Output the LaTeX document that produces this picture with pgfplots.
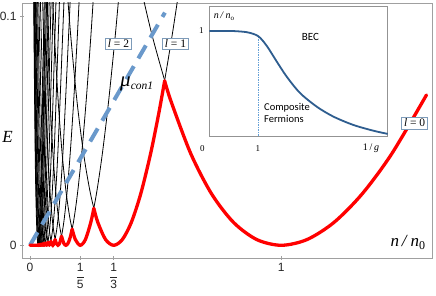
\documentclass[border=0pt]{standalone}
\usepackage{pgfplots}
\pgfplotsset{compat=1.18}
\usepackage{fontspec}
\setmainfont{Liberation Sans}
\newfontfamily\tnr{Liberation Serif}
\newfontfamily\carl{Carlito}
\definecolor{dashblue}{RGB}{106,153,203}
\definecolor{insetblue}{RGB}{46,93,143}
\definecolor{insetdash}{RGB}{100,160,215}
\definecolor{boxc}{RGB}{125,155,185}
\definecolor{framegray}{RGB}{160,160,160}
\tikzset{lbox/.style={draw=boxc, fill=white, line width=0.6pt, inner xsep=2.5pt, inner ysep=1.8pt, font=\tnr\fontsize{11.5}{11.5}\selectfont}}
\begin{document}
\begin{tikzpicture}
\begin{axis}[name=main, scale only axis, width=410pt, height=255pt,
  xmin=-0.0318, xmax=1.6, ymin=-0.00555, ymax=0.1058,
  axis line style={framegray, line width=0.8pt},
  xtick={0,0.2,0.333333,1},
  xticklabels={0,$\displaystyle\frac{\mbox{1}}{\mbox{5}}$,$\displaystyle\frac{\mbox{1}}{\mbox{3}}$,1},
  ytick={0,0.1}, yticklabels={0,0.1},
  tick pos=left, tick align=center,
  major tick length=4pt,
  tick style={framegray, line width=0.6pt},
  ticklabel style={font=\fontsize{12}{12}\selectfont, text=black!85},
  clip mode=individual]
\coordinate (BL) at (rel axis cs:0,0);
\coordinate (insetSW) at (axis cs:0.7135,0.04773);
% black curves E_l(n)
\addplot[black, line width=0.8pt, smooth] coordinates {(0.4489,0.1089) (0.49,0.09) (0.5625,0.0625) (0.64,0.04) (0.7225,0.0225) (0.81,0.01) (0.9025,0.0025) (1,0) (1.1025,0.0025) (1.21,0.01) (1.3225,0.0225) (1.44,0.04) (1.5625,0.0625)};
\addplot[black, line width=0.8pt, smooth] coordinates {(0.14963,0.1089) (0.16333,0.09) (0.1875,0.0625) (0.21333,0.04) (0.24083,0.0225) (0.27,0.01) (0.30083,0.0025) (0.33333,0) (0.3675,0.0025) (0.40333,0.01) (0.44083,0.0225) (0.48,0.04) (0.52083,0.0625) (0.56333,0.09) (0.58963,0.1089)};
\addplot[black, line width=0.8pt, smooth] coordinates {(0.08978,0.1089) (0.098,0.09) (0.1125,0.0625) (0.128,0.04) (0.1445,0.0225) (0.162,0.01) (0.1805,0.0025) (0.2,0) (0.2205,0.0025) (0.242,0.01) (0.2645,0.0225) (0.288,0.04) (0.3125,0.0625) (0.338,0.09) (0.35378,0.1089)};
\addplot[black, line width=0.8pt, smooth] coordinates {(0.06413,0.1089) (0.07,0.09) (0.08036,0.0625) (0.09143,0.04) (0.10321,0.0225) (0.11571,0.01) (0.12893,0.0025) (0.14286,0) (0.1575,0.0025) (0.17286,0.01) (0.18893,0.0225) (0.20571,0.04) (0.22321,0.0625) (0.24143,0.09) (0.2527,0.1089)};
\addplot[black, line width=0.8pt, smooth] coordinates {(0.04988,0.1089) (0.05444,0.09) (0.0625,0.0625) (0.07111,0.04) (0.08028,0.0225) (0.09,0.01) (0.10028,0.0025) (0.11111,0) (0.1225,0.0025) (0.13444,0.01) (0.14694,0.0225) (0.16,0.04) (0.17361,0.0625) (0.18778,0.09) (0.19654,0.1089)};
\addplot[black, line width=0.8pt, smooth] coordinates {(0.04081,0.1089) (0.05818,0.04) (0.07364,0.01) (0.09091,0) (0.11,0.01) (0.13091,0.04) (0.16081,0.1089)};
\addplot[black, line width=0.8pt, smooth] coordinates {(0.03453,0.1089) (0.04923,0.04) (0.06231,0.01) (0.07692,0) (0.09308,0.01) (0.11077,0.04) (0.13607,0.1089)};
\addplot[black, line width=0.8pt, smooth] coordinates {(0.02993,0.1089) (0.04267,0.04) (0.054,0.01) (0.06667,0) (0.08067,0.01) (0.096,0.04) (0.11793,0.1089)};
\addplot[black, line width=0.8pt, smooth] coordinates {(0.02641,0.1089) (0.03765,0.04) (0.04765,0.01) (0.05882,0) (0.07118,0.01) (0.08471,0.04) (0.10405,0.1089)};
\addplot[black, line width=0.8pt, smooth] coordinates {(0.02363,0.1089) (0.03368,0.04) (0.04263,0.01) (0.05263,0) (0.06368,0.01) (0.07579,0.04) (0.0931,0.1089)};
\addplot[black, line width=0.8pt, smooth] coordinates {(0.02138,0.1089) (0.03048,0.04) (0.03857,0.01) (0.04762,0) (0.05762,0.01) (0.06857,0.04) (0.08423,0.1089)};
\addplot[black, line width=0.8pt, smooth] coordinates {(0.01952,0.1089) (0.02783,0.04) (0.03522,0.01) (0.04348,0) (0.05261,0.01) (0.06261,0.04) (0.07691,0.1089)};
\addplot[black, line width=0.8pt, smooth] coordinates {(0.01796,0.1089) (0.0256,0.04) (0.0324,0.01) (0.04,0) (0.0484,0.01) (0.0576,0.04) (0.07076,0.1089)};
\addplot[black, line width=0.8pt, smooth] coordinates {(0.01663,0.1089) (0.0237,0.04) (0.03,0.01) (0.03704,0) (0.04481,0.01) (0.05333,0.04) (0.06551,0.1089)};
\addplot[black, line width=0.8pt, smooth] coordinates {(0.01548,0.1089) (0.02207,0.04) (0.02793,0.01) (0.03448,0) (0.04172,0.01) (0.04966,0.04) (0.061,0.1089)};
\addplot[black, line width=0.8pt, smooth] coordinates {(0.01448,0.1089) (0.02065,0.04) (0.02613,0.01) (0.03226,0) (0.03903,0.01) (0.04645,0.04) (0.05706,0.1089)};
% dashed mu_con1
\addplot[dashblue, line width=4pt, dash pattern=on 15pt off 9pt] coordinates {(0,0) (0.537,0.1016)};
% red envelope
\addplot[red, line width=3.3pt, line join=round, line cap=round] coordinates {(0,0) (0.03226,0) (0.03334,0.000278) (0.03448,0) (0.03573,0.000319) (0.03704,0) (0.03848,0.00037) (0.04,0) (0.04169,0.000434) (0.04348,0) (0.04548,0.000517) (0.04762,0) (0.05003,0.000626) (0.05263,0) (0.0556,0.000773) (0.05882,0) (0.06256,0.000978) (0.06667,0) (0.07152,0.001279) (0.07692,0) (0.08348,0.001742)};
\addplot[red, line width=3.3pt, smooth, line cap=round] coordinates {(0.08348,0.001742) (0.08731,0.0004) (0.09091,0) (0.09551,0.000625) (0.10025,0.002513)};
\addplot[red, line width=3.3pt, smooth, line cap=round] coordinates {(0.10025,0.002513) (0.10563,0.000625) (0.11111,0) (0.11788,0.0009) (0.12549,0.003937)};
\addplot[red, line width=3.3pt, smooth, line cap=round] coordinates {(0.12549,0.003937) (0.13441,0.0009) (0.14286,0) (0.15156,0.0009) (0.16051,0.0036) (0.16784,0.0070426)};
\addplot[red, line width=3.3pt, smooth, line cap=round] coordinates {(0.16784,0.0070426) (0.1805,0.0025) (0.2,0) (0.2205,0.0025) (0.242,0.01) (0.25403,0.016134)};
\addplot[red, line width=3.3pt, smooth, line cap=round] coordinates {(0.25403,0.016134) (0.27,0.01) (0.30083,0.0025) (0.33333,0) (0.3675,0.0025) (0.40333,0.01) (0.44083,0.0225) (0.48,0.04) (0.51253,0.0576) (0.5359,0.071797)};
\addplot[red, line width=3.3pt, smooth, line cap=round] coordinates {(0.5359,0.071797) (0.5625,0.0625) (0.64,0.04) (0.7225,0.0225) (0.81,0.01) (0.9025,0.0025) (1,0) (1.1025,0.0025) (1.21,0.01) (1.3225,0.0225) (1.44,0.04) (1.578,0.06564)};
% labels
\node[lbox] at (axis cs:0.352,0.0879) {\textit{l} = 2};
\node[lbox] at (axis cs:0.579,0.0879) {\textit{l} = 1};
\node[lbox] at (axis cs:1.531,0.0534) {\textit{l} = 0};
\node at (axis cs:0.4246,0.0703) {\tnr\itshape\fontsize{21}{21}\selectfont μ\raisebox{-3pt}{\fontsize{11.5}{11.5}\selectfont con1}};
\node at (axis cs:-0.0895,0.0471) {\tnr\itshape\fontsize{17}{17}\selectfont E};
\node at (axis cs:1.504,0.0012) {\tnr\fontsize{17}{17}\selectfont\textit{n}\,\textit{/}\,\textit{n}\raisebox{-3pt}{\fontsize{12}{12}\selectfont 0}};
\end{axis}
\begin{axis}[at={(insetSW)}, anchor=south west, scale only axis,
  width=178.4pt, height=129.3pt,
  xmin=0, xmax=3.64, ymin=0, ymax=1.231,
  axis background/.style={fill=white},
  axis line style={gray!85, line width=0.7pt},
  xtick=\empty, ytick=\empty, clip=false]
\addplot[insetdash, line width=0.5pt, dash pattern=on 1.5pt off 1pt] coordinates {(1,0) (1,0.95)};
\addplot[insetblue, line width=1.8pt, smooth] coordinates {(0,1) (0.4,1) (0.6,0.996) (0.8,0.985) (1.0,0.95) (1.17,0.86) (1.375,0.71) (1.58,0.565) (1.85,0.41) (2.19,0.28) (2.53,0.185) (2.94,0.105) (3.35,0.05) (3.64,0.02)};
\node at (axis cs:2.065,0.943) {\carl\fontsize{11}{11}\selectfont BEC};
\node[anchor=west, align=left, font=\carl\fontsize{10.5}{11.7}\selectfont, inner sep=0pt] at (axis cs:1.116,0.219) {Composite\\Fermions};
\node at (axis cs:-0.16,1.0) {\tnr\fontsize{9}{9}\selectfont 1};
\node at (axis cs:-0.14,-0.124) {\tnr\fontsize{9}{9}\selectfont 0};
\node at (axis cs:0.99,-0.124) {\tnr\fontsize{9}{9}\selectfont 1};
\node at (axis cs:3.3,-0.119) {\tnr\fontsize{10}{10}\selectfont 1\,/\,\textit{g}};
\node at (axis cs:0.3,1.138) {\tnr\fontsize{10}{10}\selectfont\textit{n}\,\textit{/}\,\textit{n}\raisebox{-1.5pt}{\fontsize{7}{7}\selectfont o}};
\end{axis}
\pgfresetboundingbox
\path (BL) ++(-22pt,-38pt) rectangle ++(436pt,296pt);
\end{tikzpicture}
\end{document}
